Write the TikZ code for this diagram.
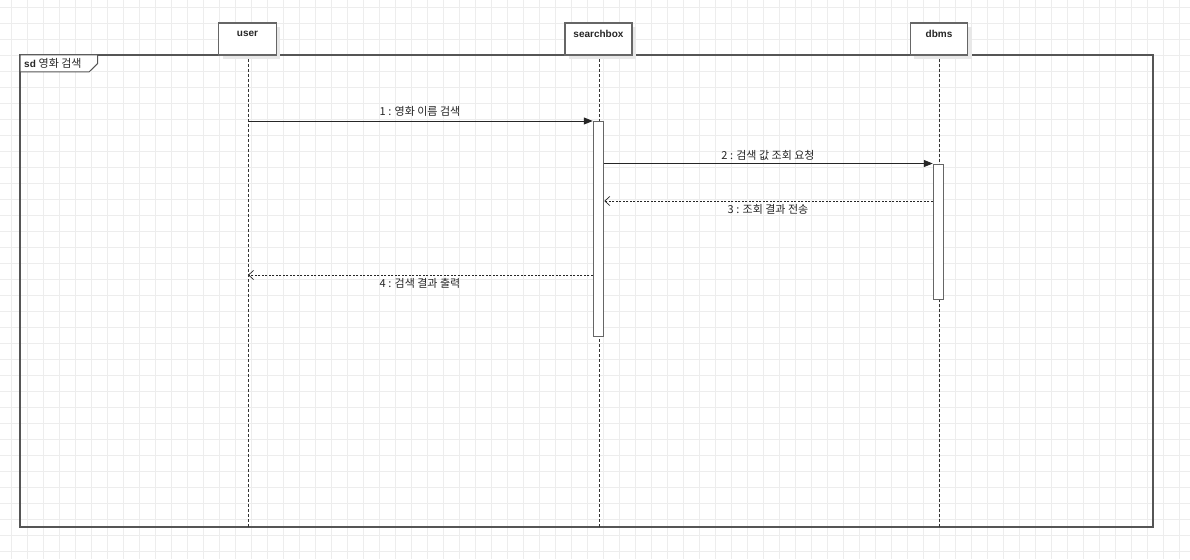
\documentclass[tikz,border=0pt]{standalone}
\usepackage{fontspec}
\setmainfont{Liberation Sans}
\newfontfamily\kr{Noto Sans CJK KR}
\usetikzlibrary{arrows.meta,shadows}
\definecolor{gridc}{HTML}{EDEDED}
\definecolor{framec}{HTML}{555555}
\definecolor{boxc}{HTML}{666666}
\tikzset{
  headbox/.style={draw=boxc, line width=1.2pt, fill=white, minimum height=32pt, inner sep=0pt,
    drop shadow={shadow xshift=4pt, shadow yshift=-4pt, fill=black!9, opacity=1}},
  headtxt/.style={font=\fontsize{10}{11}\selectfont\bfseries, inner sep=0pt, text=black!85},
  lifeline/.style={draw=black!80, line width=0.8pt, dash pattern=on 3pt off 2pt},
  actbox/.style={draw=boxc, line width=1pt, fill=white, minimum width=10.5pt, inner sep=0pt, anchor=north},
  msg/.style={draw=black!85, line width=0.8pt, -{Triangle[length=9pt,width=7pt]}},
  reply/.style={draw=black!85, line width=0.8pt, dash pattern=on 2pt off 1.5pt, -{Straight Barb[length=5pt,width=9pt,line width=0.7pt]}},
  lbl/.style={font=\kr\fontsize{11}{12}\selectfont, text=black!85, inner sep=0pt}
}
\begin{document}
\begin{tikzpicture}[x=1pt,y=-1pt]
\useasboundingbox (0,0) rectangle (1190,559);
\fill[white] (0,0) rectangle (1190,559);
\begin{scope}
\clip (0,0) rectangle (1190,559);
\foreach \i in {0,...,74} \draw[gridc, line width=1pt] (11.5+16*\i,0) -- (11.5+16*\i,559);
\foreach \j in {0,...,34} \draw[gridc, line width=1pt] (0,7.3+16*\j) -- (1190,7.3+16*\j);
\end{scope}
% frame
\draw[framec, line width=1.1pt] (20,55) rectangle (1153,527);
\draw[framec, line width=1pt, fill=white] (20,55) -- (97.7,55) -- (97.7,63.5) -- (89,72) -- (20,72) -- cycle;
\node[anchor=west, inner sep=0pt, text=black!85] (tab) at (24,63.5) {\fontsize{10}{11}\selectfont\textbf{sd} \kr\fontsize{11}{11}\selectfont 영화 검색};
% lifelines
\draw[lifeline] (248,54) -- (248,527);
\draw[lifeline] (599,54) -- (599,527);
\draw[lifeline] (939,54) -- (939,527);
% heads
\node[headbox, minimum width=57.5pt, anchor=north] (user) at (247.5,22.5) {};
\node[headtxt] (userT) at (247.5,34) {user};
\node[headbox, minimum width=67pt, anchor=north] (sbox) at (598.5,22.5) {};
\node[headtxt] (sboxT) at (598.5,34) {searchbox};
\node[headbox, minimum width=57.5pt, anchor=north] (dbms) at (939,22.5) {};
\node[headtxt] (dbmsT) at (939,34) {dbms};
% activations
\node[actbox, minimum height=215pt] (actS) at (598.5,121) {};
\node[actbox, minimum height=135pt] (actD) at (938.5,163.5) {};
% message endpoints
\coordinate (u1) at (248,121);
\coordinate (u4) at (248,275);
% messages
\draw[msg] (u1) -- (actS.north west);
\node[lbl] (m1) at (420,111.5) {1 : 영화 이름 검색};
\draw[msg] (actS.east |- actD.north) -- (actD.north west);
\node[lbl] (m2) at (768,155) {2 : 검색 값 조회 요청};
\draw[reply] (actD.west |- 0,201) -- (actS.east |- 0,201);
\node[lbl] (m3) at (768,209.5) {3 : 조회 결과 전송};
\draw[reply] (actS.west |- u4) -- (u4);
\node[lbl] (m4) at (420,283.5) {4 : 검색 결과 출력};
\end{tikzpicture}
\end{document}
